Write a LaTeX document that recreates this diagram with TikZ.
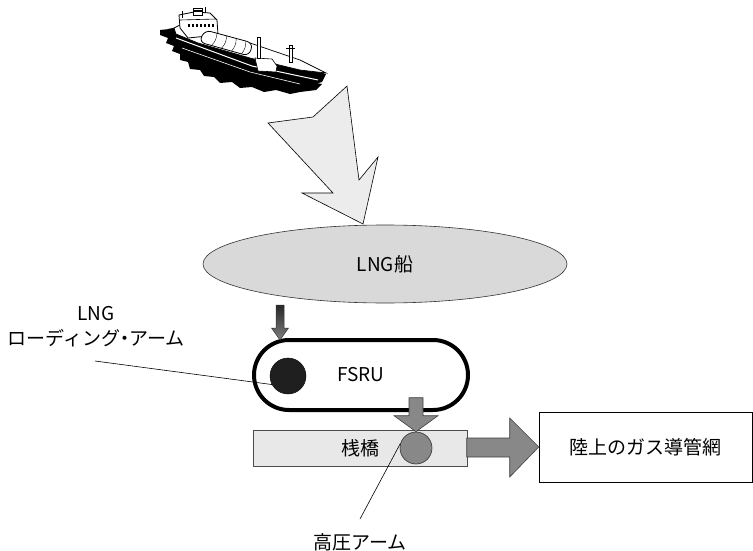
\documentclass[tikz,border=0pt]{standalone}
\usepackage{fontspec}
\setmainfont{Noto Sans CJK JP}
\usetikzlibrary{shapes.geometric,calc}
\definecolor{ShipGray}{RGB}{217,217,217}
\definecolor{JagGray}{RGB}{236,236,236}
\definecolor{PierGray}{RGB}{232,232,232}
\definecolor{FlowGray}{RGB}{136,136,136}

\begin{document}
\begin{tikzpicture}[x=1pt,y=-1pt,
    lbl/.style={font=\fontsize{19}{25}\selectfont,inner sep=0pt,align=center},
    flowarrow/.style={fill=FlowGray,draw=black!75,line width=0.6pt},
    leader/.style={draw=black,line width=0.6pt}]
  \useasboundingbox (0,0) rectangle (753,551);

  \fill[black] (160,30) -- (170,29) -- (180,40) -- (200,52) -- (240,66) -- (300,80) -- (322,84)
    -- (316,90) -- (300,92) -- (290,94) -- (276,90) -- (264,92) -- (252,87) -- (240,88)
    -- (232,82) -- (220,83) -- (214,77) -- (204,76) -- (200,70) -- (190,69) -- (188,62)
    -- (180,60) -- (180,54) -- (172,51) -- (174,46) -- (166,43) -- (168,38) -- (160,35) -- cycle;
  \fill[black] (168,29) -- (178,27) -- (326,74) -- (322,82) -- (305,87) -- (250,75) -- (200,58)
    -- (176,42) -- cycle;
  \draw[white,line width=1pt] (176,38) -- (252,66) -- (318,80);
  \draw[white,line width=0.6pt] (182,48) -- (250,72) -- (300,84);
  \filldraw[fill=white,draw=black,line width=0.7pt] (174,28) -- (180,25) -- (250,43) -- (300,60)
    -- (326,73) -- (300,70) -- (250,58) -- (198,43) -- (176,34) -- cycle;
  \filldraw[fill=white,draw=black,line width=0.8pt] (179,15) -- (194,12) -- (210,13) -- (217,20)
    -- (218,35) -- (188,38) -- (180,28) -- cycle;
  \draw[line width=0.6pt] (180,20) -- (216,19);
  \foreach \i in {0,...,6}
    \fill (188+4*\i,24) rectangle ++(2,3);
  \filldraw[fill=white,draw=black,line width=0.6pt] (193,8) rectangle (202,15);
  \fill (193,10) rectangle (202,12);
  \draw[line width=0.8pt] (182,11) -- (182,18);
  \draw[line width=0.8pt] (205,7) -- (205,13);
  \filldraw[fill=white,draw=black,line width=0.8pt,rounded corners=6pt] (205,30) -- (253,43)
    -- (249,56) -- (199,42) -- cycle;
  \foreach \t in {0.25,0.45,0.65,0.85}
    \draw[line width=0.4pt] ($(205,30)!\t!(253,43)$) to[bend left=20] ($(199,42)!\t!(249,56)$);
  \filldraw[fill=white,draw=black,line width=0.6pt] (255,58) -- (272,59) -- (277,66) -- (276,72)
    -- (258,71) -- cycle;
  \filldraw[fill=white,draw=black,line width=0.5pt] (257,37) rectangle (260,58);
  \filldraw[fill=white,draw=black,line width=0.5pt] (289,45) rectangle (292,62);
  \draw[line width=0.5pt] (286,48) -- (295,48);

  \node[ellipse,draw=black!80,fill=ShipGray,line width=0.6pt,minimum width=364pt,
    minimum height=78pt,lbl] (lng) at (385,264) {LNG船};
  \filldraw[fill=JagGray,draw=black,line width=0.6pt] (347,86) -- (359,180) -- (378,157)
    -- (363,224) -- (302,193) -- (333,193) -- (268,123) -- (313,117) -- cycle;

  \node[draw=black,line width=4pt,rounded corners=35pt,minimum width=214pt,
    minimum height=70pt,lbl] (fsru) at (361,375) {FSRU};
  \node[circle,fill=black!88,draw=black,minimum size=36pt,inner sep=0pt] (armA) at (288,376) {};

  \node[draw=black!70,fill=PierGray,line width=0.6pt,minimum width=214pt,
    minimum height=36pt,lbl] (pier) at (360,448) {桟橋};
  \node[circle,fill=FlowGray,draw=black!80,line width=0.6pt,minimum size=32pt,
    inner sep=0pt] (armB) at (416,448) {};
  \node[draw=black,line width=0.6pt,minimum width=213pt,minimum height=70pt,lbl]
    (grid) at (645.5,447) {陸上のガス導管網};

  \coordinate (feed) at (280,340);
  \shade[top color=black!85,bottom color=black!50,draw=black!80,line width=0.5pt]
    (feed) -- ++(-8.5,-12) -- ++(4.5,0) -- ++(0,-23) -- ++(8,0) -- ++(0,23) -- ++(4.5,0) -- cycle;
  \filldraw[flowarrow] (armB.north) -- ++(-22,-16) -- ++(15,0) -- ++(0,-18) -- ++(14,0)
    -- ++(0,18) -- ++(15,0) -- cycle;
  \filldraw[flowarrow] (grid.west) -- ++(-29,-29) -- ++(0,20) -- ++(-43,0) -- ++(0,19)
    -- ++(43,0) -- ++(0,20) -- cycle;

  \node[lbl] (armlbl) at (96,327) {LNG\\ローディング{\kern-5pt}・{\kern-5pt}アーム};
  \coordinate (armlead) at (95,361);
  \draw[leader] (armlead) -- (armA.208);

  \node[lbl] (hplbl) at (360,542) {高圧アーム};
  \coordinate (hplead) at (360,519);
  \draw[leader] (hplead) -- (armB.164);
\end{tikzpicture}
\end{document}
